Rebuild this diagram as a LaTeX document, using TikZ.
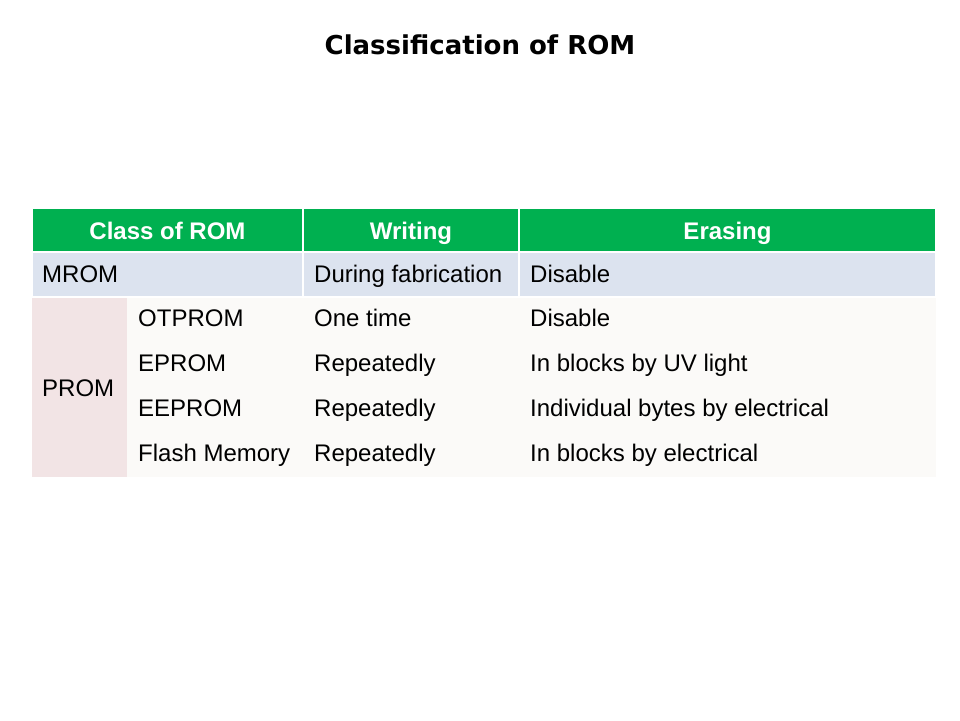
\documentclass[tikz,border=0pt]{standalone}
\usepackage{fontspec}
\setmainfont{Liberation Sans}
\newfontfamily\titlefont{DejaVu Sans}
\definecolor{hdrgreen}{HTML}{00B050}
\definecolor{mromblue}{HTML}{DCE3EF}
\definecolor{prompink}{HTML}{F2E4E5}
\definecolor{cellwhite}{HTML}{FBFAF8}
\begin{document}
\begin{tikzpicture}[x=1pt,y=-1pt,
  cell/.style={draw=white,line width=1.5pt},
  hdr/.style={font=\fontsize{24}{28}\selectfont\bfseries,text=white,anchor=base,inner sep=0pt},
  txt/.style={font=\fontsize{24}{28}\selectfont,text=black,anchor=base west,inner sep=0pt}]
\useasboundingbox (0,0) rectangle (960,720);
\node[font=\titlefont\fontsize{26}{30}\selectfont\bfseries,anchor=base,inner sep=0pt] (title) at (480,54) {Classification of ROM};
% header
\path[cell,fill=hdrgreen] (32,208) rectangle (303,252);
\path[cell,fill=hdrgreen] (303,208) rectangle (519,252);
\path[cell,fill=hdrgreen] (519,208) rectangle (936,252);
\node[hdr] (h1) at (167.5,239) {Class of ROM};
\node[hdr] (h2) at (411,239) {Writing};
\node[hdr] (h3) at (727.5,239) {Erasing};
% MROM row
\path[cell,fill=mromblue] (32,252) rectangle (303,297);
\path[cell,fill=mromblue] (303,252) rectangle (519,297);
\path[cell,fill=mromblue] (519,252) rectangle (936,297);
\node[txt] (m1) at (42,282) {MROM};
\node[txt] (m2) at (314,282) {During fabrication};
\node[txt] (m3) at (530,282) {Disable};
% PROM rows
\fill[cellwhite] (127,297.8) rectangle (936,477);
\fill[prompink] (32,297.8) rectangle (127,477);
\node[txt] (p) at (42,396) {PROM};
\node[txt] (r1a) at (138,326) {OTPROM};
\node[txt] (r1b) at (314,326) {One time};
\node[txt] (r1c) at (530,326) {Disable};
\node[txt] (r2a) at (138,371) {EPROM};
\node[txt] (r2b) at (314,371) {Repeatedly};
\node[txt] (r2c) at (530,371) {In blocks by UV light};
\node[txt] (r3a) at (138,416) {EEPROM};
\node[txt] (r3b) at (314,416) {Repeatedly};
\node[txt] (r3c) at (530,416) {Individual bytes by electrical};
\node[txt] (r4a) at (138,461) {Flash Memory};
\node[txt] (r4b) at (314,461) {Repeatedly};
\node[txt] (r4c) at (530,461) {In blocks by electrical};
\end{tikzpicture}
\end{document}
